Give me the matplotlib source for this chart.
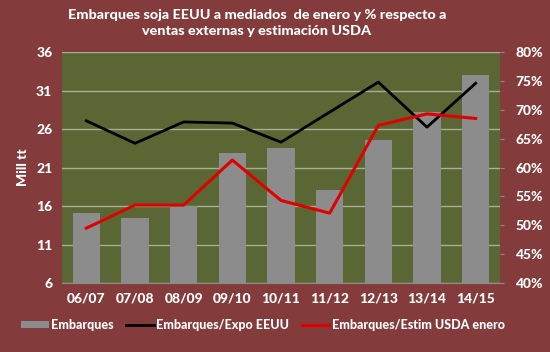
import matplotlib
matplotlib.use("Agg")
import matplotlib.pyplot as plt
from matplotlib.lines import Line2D
from matplotlib.patches import Patch

categories = ["06/07", "07/08", "08/09", "09/10", "10/11", "11/12", "12/13", "13/14", "14/15"]
embarques = [15.1, 14.4, 16.0, 22.9, 23.5, 18.1, 24.6, 28.2, 33.0]
ratio_expo = [68.1, 64.2, 67.9, 67.7, 64.4, 69.6, 74.8, 67.0, 74.6]
ratio_usda = [49.5, 53.5, 53.5, 61.3, 54.3, 52.1, 67.3, 69.3, 68.5]

BG = "#843B3B"
PLOT = "#5A6633"
BAR = "#8C8C8C"
FONT = "Lato"
W = 900
FS = 10

fig = plt.figure(figsize=(5.5, 3.52), dpi=100)
fig.patch.set_facecolor(BG)
ax = fig.add_axes([0.1127, 0.196, 0.7964, 0.656])
ax.set_facecolor(PLOT)
x = list(range(len(categories)))
ax.bar(x, embarques, width=0.56, color=BAR, zorder=2)
ax.set_ylim(6, 36)
ax.set_yticks([6, 11, 16, 21, 26, 31, 36])
ax.set_xlim(-0.5, len(categories) - 0.5)
ax.set_xticks(x)
ax.set_xticklabels(categories)
ax.grid(axis="y", color="#A9AE98", linewidth=1, zorder=1)
for s in ax.spines.values():
    s.set_visible(False)
ax.spines["bottom"].set_visible(True)
ax.spines["bottom"].set_color("#8C8C8C")
ax.tick_params(axis="both", length=0, colors="white", labelsize=FS, pad=7)
for lab in ax.get_xticklabels() + ax.get_yticklabels():
    lab.set_fontweight(W)
    lab.set_fontfamily(FONT)
ax.set_ylabel("Mill tt", color="white", fontsize=FS, fontweight=W, family=FONT, labelpad=5)

ax2 = ax.twinx()
ax2.plot(x, ratio_expo, color="black", linewidth=2, zorder=3)
ax2.plot(x, ratio_usda, color="#E00000", linewidth=2.2, zorder=3)
ax2.set_ylim(40, 80)
ax2.set_yticks(range(40, 81, 5))
ax2.set_yticklabels([f"{v}%" for v in range(40, 81, 5)])
for s in ax2.spines.values():
    s.set_visible(False)
ax2.tick_params(axis="y", length=3, color="#8C8C8C", labelcolor="white", labelsize=FS, pad=8)
for lab in ax2.get_yticklabels():
    lab.set_fontweight(W)
    lab.set_fontfamily(FONT)

fig.text(0.467, 0.935, "Embarques soja EEUU a mediados  de enero y % respecto a\nventas externas y estimación USDA",
         ha="center", va="center", color="white", fontsize=10.4, fontweight=W, family=FONT, linespacing=1.4)

handles = [Patch(facecolor=BAR, edgecolor="none"),
           Line2D([], [], color="black", linewidth=2),
           Line2D([], [], color="#E00000", linewidth=2.2)]
labels = ["Embarques", "Embarques/Expo EEUU", "Embarques/Estim USDA enero"]
leg = fig.legend(handles, labels, loc="center", bbox_to_anchor=(0.478, 0.077), ncol=3, frameon=False,
                 handlelength=2.2, handleheight=0.5, columnspacing=1.0, handletextpad=0.2,
                 prop={"family": FONT, "weight": W, "size": 9})
for t in leg.get_texts():
    t.set_color("white")

fig.savefig("out.png", dpi=100, facecolor=BG)
